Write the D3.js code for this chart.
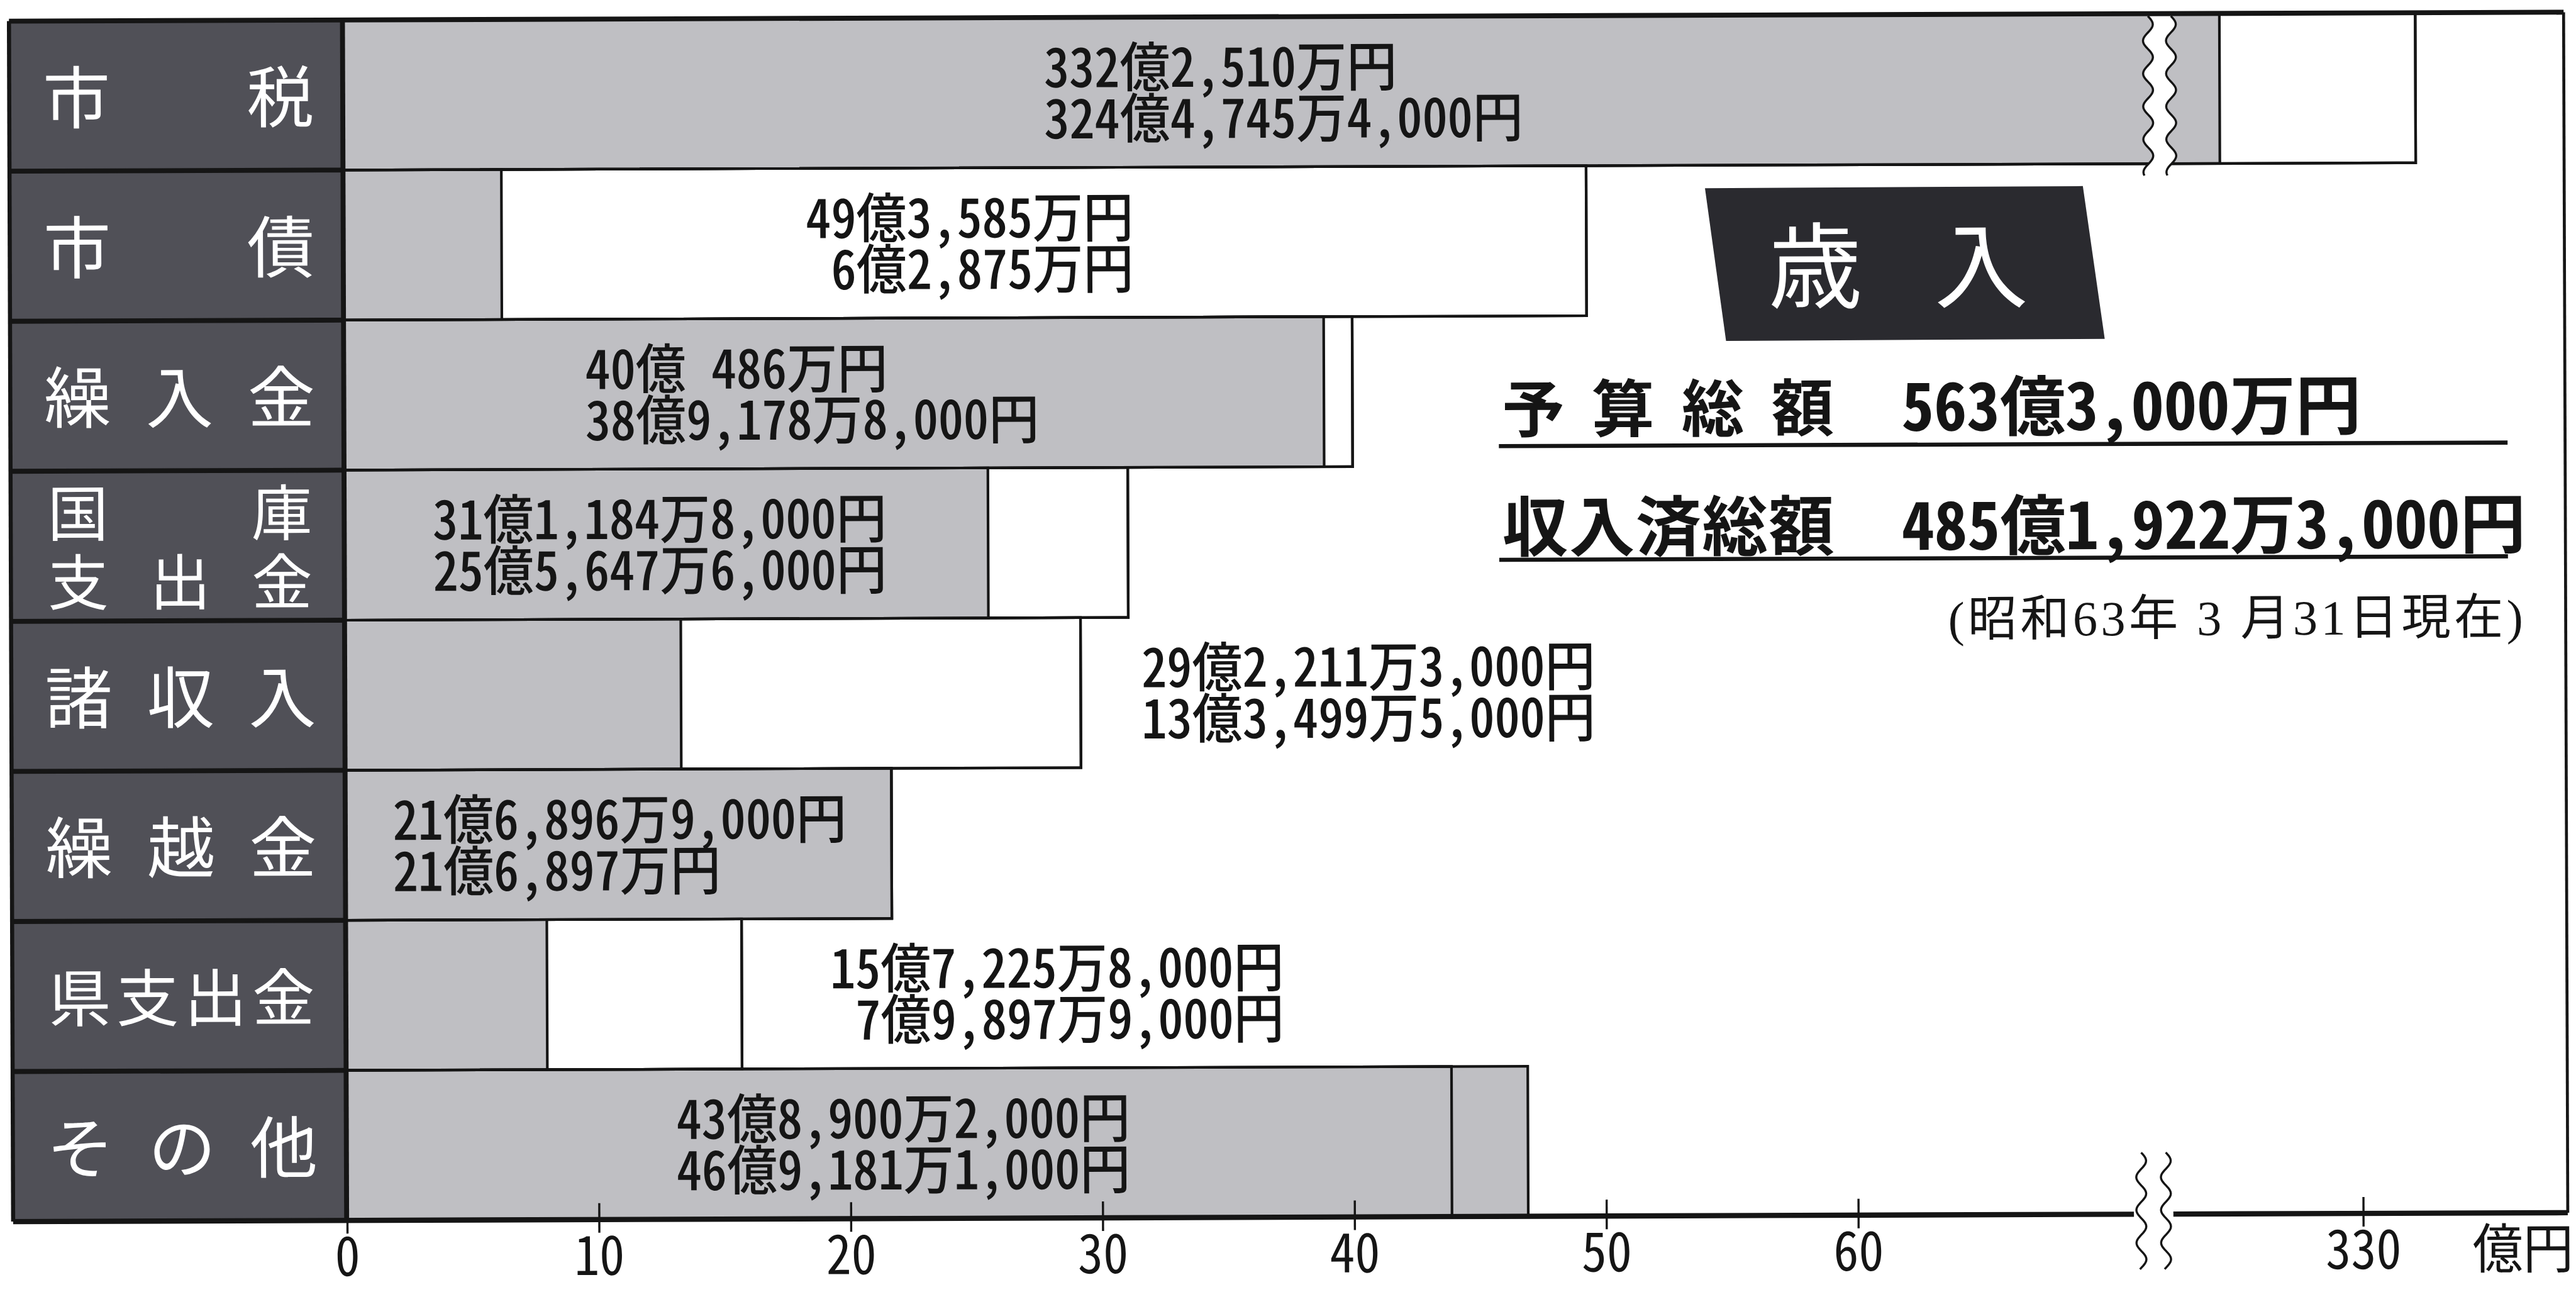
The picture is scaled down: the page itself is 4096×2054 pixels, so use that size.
<!DOCTYPE html>
<html lang="ja">
<head>
<meta charset="utf-8">
<title>歳入</title>
<script src="https://cdn.jsdelivr.net/npm/d3@7"></script>
<style>
html, body { margin: 0; padding: 0; background: #fff; }
svg { display: block; }
text { font-family: "Noto Sans CJK JP", "Noto Sans CJK SC", sans-serif; }
.num { font-feature-settings: "hwid" 1; }
</style>
</head>
<body>
<svg id="chart"></svg>
<script>
// 歳入項目（単位：円）
const categories  = ["市税", "市債", "繰入金", "国庫支出金", "諸収入", "繰越金", "県支出金", "その他"];
const budgetYen   = [33225100000, 4935850000, 4004860000, 3111848000, 2922113000, 2168969000, 1572258000, 4389002000];
const receivedYen = [32447454000,  628750000, 3891788000, 2556476000, 1334995000, 2168970000,  798979000, 4691811000];

// 目盛（億円）
const tickValues = [0, 10, 20, 30, 40, 50, 60, 330];
const tickUnit = "億円";

const titleText = "歳入";
const budgetTotalLabel = "予算総額";
const receivedTotalLabel = "収入済総額";
const asOfText = "(昭和63年 3 月31日現在)";

// 金額ラベルの置き場所（億円目盛上の位置と揃え）
const labelPlacement = [
  { at: 27.85, anchor: "start" },
  { at: 31.38, anchor: "end" },
  { at: 9.59,  anchor: "start" },
  { at: 3.52,  anchor: "start" },
  { at: 31.64, anchor: "start" },
  { at: 1.89,  anchor: "start" },
  { at: 37.25, anchor: "end" },
  { at: 13.11, anchor: "start" }
];

// ---- layout ----
const W = 1568, H = 786;
const colLeft = 8, x0 = 211, plotTop = 12.7, plotBottom = 743.3, frameRight = 1563;
const unit = 15.33;                        // px per 億円
const breakLow = 71.75, breakHigh = 321.7; // axis is cut between these values
const xBreak = x0 + breakLow * unit;

const C = { col: "#505057", bar: "#bfbfc3", ink: "#151515", box: "#2a2a2f" };

const svg = d3.select("#chart")
  .attr("width", 4096).attr("height", 2054)
  .attr("viewBox", `0 0 ${W} ${H}`);
svg.append("rect").attr("width", W).attr("height", H).attr("fill", "#fff");

const page = svg.append("g").attr("transform", "rotate(-0.2 10 743)");

const x = d3.scaleLinear()
  .domain([0, breakLow, breakHigh, 345])
  .range([x0, xBreak, xBreak, xBreak + (345 - breakHigh) * unit]);
const y = d3.scaleBand().domain(categories).range([plotTop, plotBottom]);
const bw = y.bandwidth();

const fmt = d3.format(",");
function yenLabel(v) {
  const oku = Math.floor(v / 1e8);
  const man = Math.floor((v % 1e8) / 1e4);
  const en = v % 1e4;
  let s = oku + "億";
  if (man > 0) s += (man < 1000 ? "\u3000" + man : fmt(man)) + "万";
  if (en > 0) s += fmt(en);
  return s + "円";
}

const rows = categories.map((c, i) => ({
  c, i,
  budget: budgetYen[i] / 1e8,
  received: receivedYen[i] / 1e8,
  budgetYen: budgetYen[i],
  receivedYen: receivedYen[i]
}));

// ---- bars ----
const barG = page.append("g");
barG.selectAll("rect.budget").data(rows).join("rect")
  .attr("class", "budget")
  .attr("x", x0).attr("y", d => y(d.c))
  .attr("width", d => x(d.budget) - x0).attr("height", bw)
  .attr("fill", "#fff").attr("stroke", C.ink).attr("stroke-width", 1.6);
barG.selectAll("rect.received").data(rows).join("rect")
  .attr("class", "received")
  .attr("x", x0).attr("y", d => y(d.c))
  .attr("width", d => x(d.received) - x0).attr("height", bw)
  .attr("fill", C.bar).attr("stroke", C.ink).attr("stroke-width", 1.6);
barG.selectAll("rect.budgetEdge").data(rows).join("rect")
  .attr("class", "budgetEdge")
  .attr("x", x0).attr("y", d => y(d.c))
  .attr("width", d => x(d.budget) - x0).attr("height", bw)
  .attr("fill", "none").attr("stroke", C.ink).attr("stroke-width", 1.6);

// ---- break marks ----
function wavePoints(xc, y1, y2, amp, period) {
  const pts = [];
  for (let t = y1; t <= y2 + 0.01; t += 1) pts.push([xc + amp * Math.sin(2 * Math.PI * (t - y1) / period), t]);
  return pts;
}
function breakMark(g, xc, y1, y2, gap) {
  const left = wavePoints(xc - gap / 2, y1, y2, 3, 20);
  const right = wavePoints(xc + gap / 2, y1, y2, 3, 20);
  g.append("path")
    .attr("d", d3.line()(left.concat(right.slice().reverse())) + "Z")
    .attr("fill", "#fff");
  [left, right].forEach(p => g.append("path")
    .attr("d", d3.line()(p))
    .attr("fill", "none").attr("stroke", C.ink).attr("stroke-width", 1.3));
}
breakMark(page.append("g"), xBreak + 6, plotTop + 1.5, y(categories[0]) + bw + 8, 14);

// ---- label column ----
const colG = page.append("g");
colG.selectAll("rect").data(categories).join("rect")
  .attr("x", colLeft).attr("y", d => y(d))
  .attr("width", x0 - colLeft).attr("height", bw)
  .attr("fill", C.col);
colG.selectAll("line.sep").data(categories.slice(1)).join("line")
  .attr("class", "sep")
  .attr("x1", colLeft).attr("x2", x0)
  .attr("y1", d => y(d)).attr("y2", d => y(d))
  .attr("stroke", C.ink).attr("stroke-width", 3);

// characters are spread evenly across the cell, long names on two lines
const charLeft = 49, charRight = 173;
rows.forEach(d => {
  const lines = d.c.length > 4 ? [d.c.slice(0, 2), d.c.slice(2)] : [d.c];
  const fs = lines.length > 1 ? 37 : (d.c.length > 3 ? 38 : 41);
  const cy = y(d.c) + bw / 2 + 1;
  const t = colG.append("text")
    .attr("text-anchor", "middle")
    .attr("font-size", fs).attr("fill", "#fff");
  lines.forEach((ln, j) => {
    const ly = cy + (j - (lines.length - 1) / 2) * 42;
    const chars = [...ln];
    chars.forEach((ch, k) => {
      const cx = chars.length === 1 ? (charLeft + charRight) / 2
        : charLeft + k * (charRight - charLeft) / (chars.length - 1);
      t.append("tspan").attr("x", cx).attr("y", ly + 0.375 * fs).text(ch);
    });
  });
});

// ---- frame ----
const frame = page.append("g").attr("stroke", C.ink).attr("fill", "none");
frame.append("line").attr("x1", colLeft).attr("x2", frameRight).attr("y1", plotTop).attr("y2", plotTop).attr("stroke-width", 3);
frame.append("line").attr("x1", frameRight).attr("x2", frameRight).attr("y1", plotTop).attr("y2", plotBottom).attr("stroke-width", 1.8);
frame.append("line").attr("x1", colLeft).attr("x2", colLeft).attr("y1", plotTop).attr("y2", plotBottom).attr("stroke-width", 2.5);
frame.append("line").attr("x1", x0).attr("x2", x0).attr("y1", plotTop).attr("y2", plotBottom).attr("stroke-width", 3);

// ---- amount labels: budget on the first line, received on the second ----
const valG = page.append("g").attr("fill", C.ink);
const valFs = 33, valSx = 0.93;
rows.forEach(d => {
  const p = labelPlacement[d.i];
  const cy = y(d.c) + bw / 2;
  const t = valG.append("text")
    .attr("class", "num")
    .attr("transform", `translate(${x(p.at)},${cy}) scale(${valSx},1)`)
    .attr("text-anchor", p.anchor)
    .attr("font-size", valFs).attr("font-weight", 500);
  [yenLabel(d.budgetYen), yenLabel(d.receivedYen)].forEach((s, j) => {
    t.append("tspan")
      .attr("x", 0)
      .attr("y", (j === 0 ? -15.6 : 15.6) + 0.375 * valFs)
      .text(s);
  });
});

// ---- axis ----
const tickFs = 33;
const tickBaseline = 777;
const axisG = page.append("g").attr("transform", `translate(0,${plotBottom})`)
  .call(d3.axisBottom(x).tickValues(tickValues).tickSizeOuter(0).tickFormat(d => d));
axisG.select(".domain").remove();
axisG.attr("font-family", null).attr("font-size", null);
axisG.selectAll(".tick line")
  .attr("y1", -10).attr("y2", 8)
  .attr("stroke", C.ink).attr("stroke-width", 1.3);
axisG.selectAll(".tick text")
  .attr("class", "num")
  .attr("y", tickBaseline - plotBottom).attr("dy", null)
  .attr("transform", `scale(${valSx},1)`)
  .attr("font-size", tickFs)
  .attr("fill", C.ink);

page.append("text")
  .attr("transform", `translate(1505,${tickBaseline}) scale(${valSx},1)`)
  .attr("font-size", tickFs).attr("fill", C.ink)
  .text(tickUnit);

page.append("line").attr("x1", colLeft).attr("x2", xBreak - 12)
  .attr("y1", plotBottom).attr("y2", plotBottom)
  .attr("stroke", C.ink).attr("stroke-width", 3.2);
page.append("line").attr("x1", xBreak + 12).attr("x2", frameRight)
  .attr("y1", plotBottom).attr("y2", plotBottom)
  .attr("stroke", C.ink).attr("stroke-width", 3.2);
breakMark(page.append("g"), xBreak, plotBottom - 37.5, plotBottom + 34, 15);

// ---- title box and totals ----
const info = page.append("g");
info.append("path")
  .attr("d", d3.line()([[1040, 118], [1270, 117.5], [1283, 210.5], [1052.5, 211]]) + "Z")
  .attr("fill", C.box);
const title = info.append("text")
  .attr("text-anchor", "middle")
  .attr("font-size", 57).attr("fill", "#fff");
[...titleText].forEach((ch, k) => {
  title.append("tspan").attr("x", 1107 + k * 101).attr("y", 165.5 + 0.375 * 57).text(ch);
});

function spreadChars(g, str, left, right, baseline, fs) {
  const chars = [...str];
  const t = g.append("text")
    .attr("text-anchor", "middle")
    .attr("font-size", fs).attr("font-weight", 700).attr("fill", C.ink);
  chars.forEach((ch, k) => {
    t.append("tspan")
      .attr("x", left + fs / 2 + k * (right - left - fs) / (chars.length - 1))
      .attr("y", baseline)
      .text(ch);
  });
}
spreadChars(info, budgetTotalLabel, 916, 1118, 266, 38);
spreadChars(info, receivedTotalLabel, 916, 1118, 338.5, 40);

info.append("text").attr("class", "num")
  .attr("x", 1159).attr("y", 266)
  .attr("font-size", 40).attr("font-weight", 700).attr("fill", C.ink)
  .text(yenLabel(d3.sum(budgetYen)));
info.append("text").attr("class", "num")
  .attr("x", 1159).attr("y", 338.5)
  .attr("font-size", 40).attr("font-weight", 700).attr("fill", C.ink)
  .text(yenLabel(d3.sum(receivedYen)));

info.append("line").attr("x1", 914).attr("x2", 1528).attr("y1", 274.5).attr("y2", 274.5)
  .attr("stroke", C.ink).attr("stroke-width", 2.5);
info.append("line").attr("x1", 914).attr("x2", 1528).attr("y1", 343.7).attr("y2", 343.7)
  .attr("stroke", C.ink).attr("stroke-width", 2.5);

info.append("text")
  .attr("x", 1539).attr("y", 391)
  .attr("text-anchor", "end")
  .style("font-family", "'Liberation Serif', 'Noto Sans CJK JP', serif")
  .style("letter-spacing", "2px")
  .attr("font-size", 30).attr("fill", C.ink)
  .text(asOfText);
</script>
</body>
</html>
